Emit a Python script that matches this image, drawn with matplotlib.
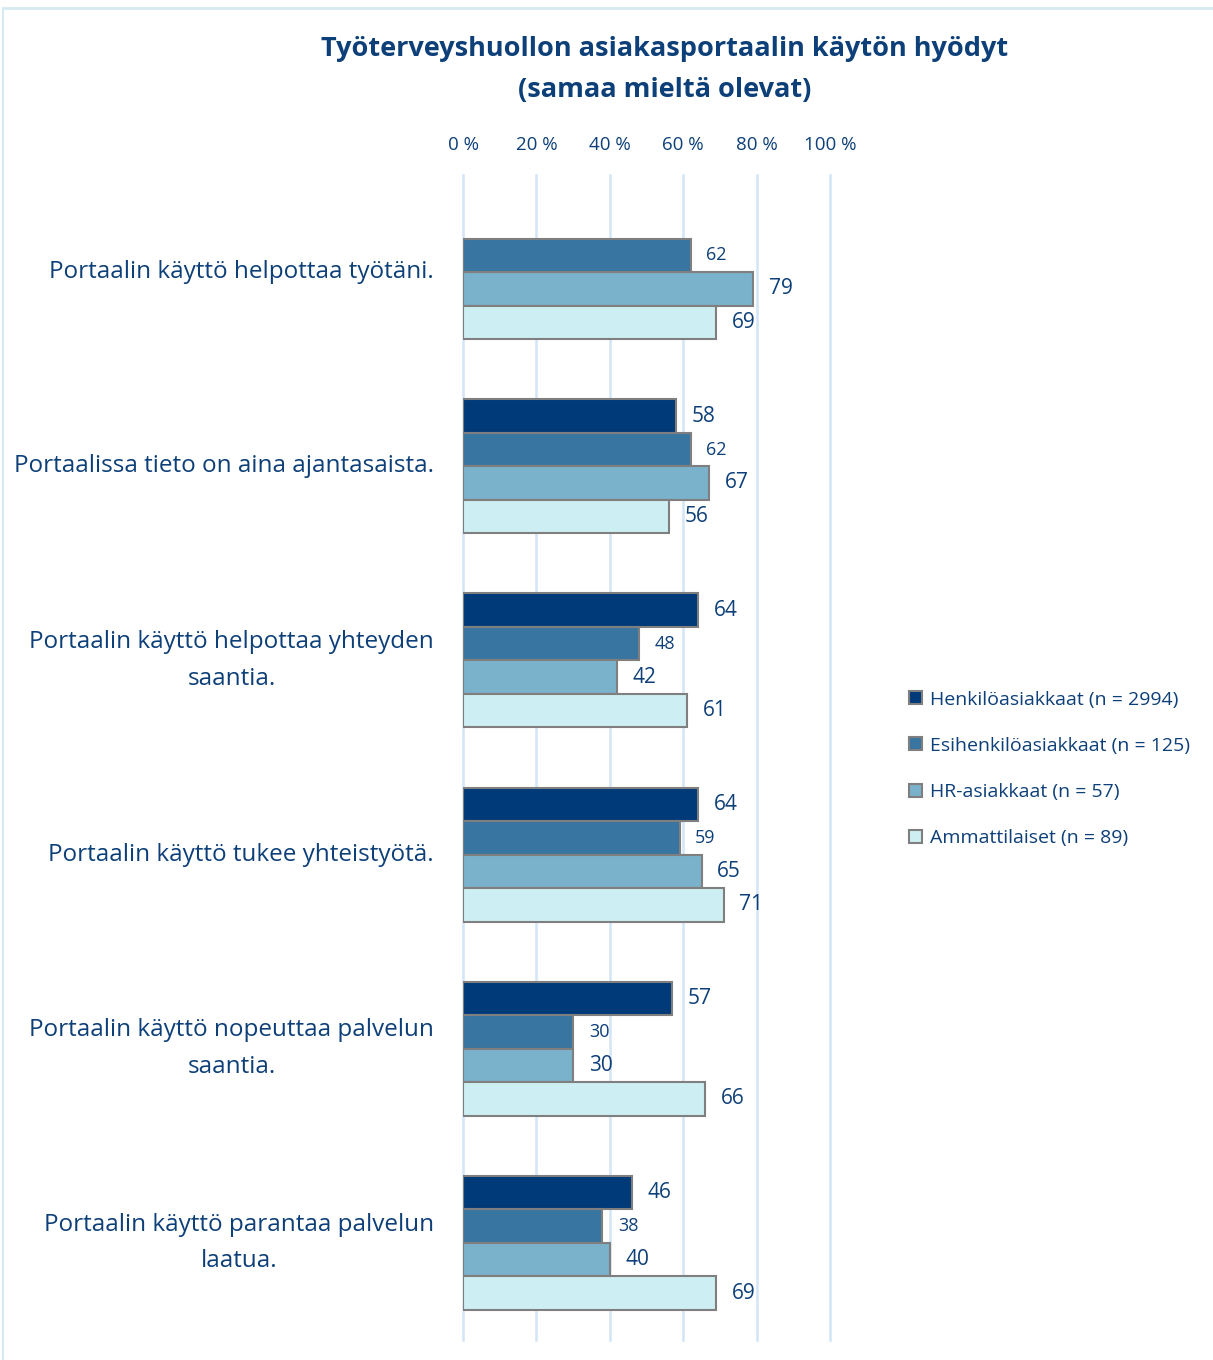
import matplotlib
matplotlib.use('Agg')
import matplotlib.pyplot as plt
from matplotlib.patches import Patch
from matplotlib.lines import Line2D
import numpy as np

plt.rcParams['font.family'] = ['Open Sans', 'DejaVu Sans']
plt.rcParams['font.weight'] = 500

# data
categories = ['Portaalin käyttö helpottaa työtäni.',
              'Portaalissa tieto on aina ajantasaista.',
              'Portaalin käyttö helpottaa yhteyden\nsaantia.',
              'Portaalin käyttö tukee yhteistyötä.',
              'Portaalin käyttö nopeuttaa palvelun\nsaantia.',
              'Portaalin käyttö parantaa palvelun\nlaatua.']
series = ['Henkilöasiakkaat (n = 2994)', 'Esihenkilöasiakkaat (n = 125)',
          'HR-asiakkaat (n = 57)', 'Ammattilaiset (n = 89)']
henkilo = [np.nan, 58, 64, 64, 57, 46]
esihenkilo = [62, 62, 48, 59, 30, 38]
hr = [79, 67, 42, 65, 30, 40]
ammattilaiset = [69, 56, 61, 71, 66, 69]
values = [henkilo, esihenkilo, hr, ammattilaiset]

colors = ['#003A78', '#3875A1', '#7BB2CB', '#CDEEF2']
label_sizes = [15, 13, 15, 15]
txt = '#0D3F78'

fig = plt.figure(figsize=(12.13, 13.6), dpi=100)
ax = fig.add_axes([463 / 1213, 1 - 1340 / 1360, 367 / 1213, 1165 / 1360])

y = np.arange(len(categories))
h = 0.1725
for i, (vals, col) in enumerate(zip(values, colors)):
    pos = y + (i - 1.5) * h
    ax.barh(pos, vals, height=h, color=col, edgecolor='#7F7F7F', linewidth=1.5, zorder=3)
    for p, v in zip(pos, vals):
        if not np.isnan(v):
            ax.text(v + 4.3, p, f'{v:.0f}', va='center', ha='left',
                    fontsize=label_sizes[i], color=txt)

ax.set_xlim(0, 100)
ax.set_ylim(len(categories) - 0.5, -0.5)
ax.set_xticks(range(0, 101, 20))
ax.set_xticklabels([f'{t} %' for t in range(0, 101, 20)], fontsize=13.5, color=txt)
ax.xaxis.tick_top()
ax.tick_params(axis='x', length=0, pad=15)
ax.set_yticks([])
for s in ax.spines.values():
    s.set_visible(False)
for gx in range(0, 101, 20):
    ax.axvline(gx, color='#D3E5F7', linewidth=1.8, zorder=0, clip_on=False)

for yi, c in zip(y, categories):
    ax.text(-7.9, yi, c, ha='right', va='center', multialignment='center',
            fontsize=17.5, color=txt, linespacing=1.7)

fig.text(0.548, 1 - 70 / 1360, 'Työterveyshuollon asiakasportaalin käytön hyödyt\n(samaa mieltä olevat)',
         ha='center', va='center', fontsize=19.5, fontweight='bold', color=txt, linespacing=1.75)

handles = [Patch(facecolor=c, edgecolor='#7F7F7F', linewidth=1.5) for c in colors]
fig.legend(handles, series, loc='upper left', bbox_to_anchor=(892 / 1213, 1 - 673 / 1360),
           frameon=False, fontsize=14, labelcolor=txt, handlelength=0.65, handleheight=0.65,
           handletextpad=0.4, labelspacing=1.45)

# light frame
fig.add_artist(Line2D([3 / 1213, 1], [1 - 8 / 1360] * 2, color='#D6EAF2', linewidth=2))
fig.add_artist(Line2D([3 / 1213] * 2, [1 - 8 / 1360, 0], color='#D6EAF2', linewidth=1.5))

fig.savefig('out.png', dpi=100)
